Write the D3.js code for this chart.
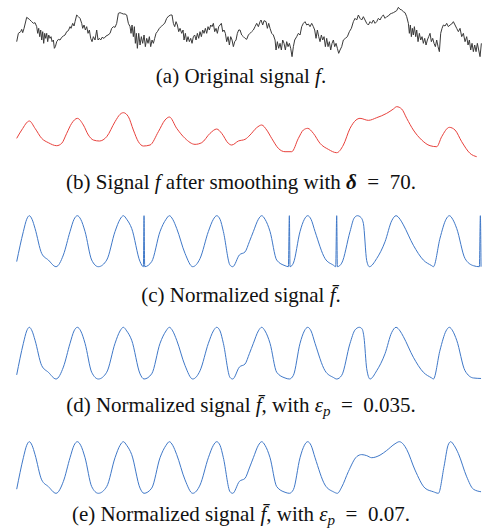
<!DOCTYPE html>
<html>
<head>
<meta charset="utf-8">
<script src="https://cdn.jsdelivr.net/npm/d3@7"></script>
<style>
  body { margin:0; background:#fff; }
  .cap { font-family:"Liberation Serif", "DejaVu Serif", serif; font-size:21px; fill:#111; }
  .sig { fill:none; stroke-linejoin:round; }
</style>
</head>
<body>
<div id="canvas"></div>
<script>
// (a) original signal f : [t, value]
var signalA = [[0,55],[5,80],[12,85],[15,92],[18,82],[22,95],[30,128],[38,122],[45,115],[50,110],[55,112],[60,100],[63,80],[66,95],[69,70],[72,90],[75,60],[78,85],[81,50],[84,80],[87,65],[90,80],[93,55],[96,75],[100,65],[103,70],[106,55],[110,60],[113,35],[116,40],[120,55],[125,62],[130,60],[135,68],[140,72],[145,75],[150,85],[155,88],[160,100],[163,95],[168,110],[172,102],[175,115],[180,135],[185,130],[190,125],[195,110],[198,95],[202,105],[206,90],[210,100],[214,80],[218,90],[222,65],[226,55],[230,70],[235,60],[240,90],[244,60],[248,65],[252,60],[256,68],[262,65],[268,72],[274,75],[280,80],[285,95],[290,100],[295,98],[300,110],[305,140],[310,142],[315,140],[320,138],[325,138],[330,135],[335,110],[340,100],[343,80],[346,105],[350,70],[353,100],[356,50],[359,80],[362,35],[366,80],[370,45],[374,70],[378,50],[382,75],[386,40],[390,65],[394,50],[398,70],[402,40],[406,60],[410,50],[414,65],[418,80],[422,85],[428,95],[433,100],[438,105],[444,110],[450,125],[456,132],[462,135],[466,135],[470,110],[474,100],[478,115],[482,105],[486,85],[490,95],[495,80],[499,90],[502,60],[506,80],[510,55],[514,70],[518,55],[522,65],[526,50],[530,70],[534,75],[538,60],[542,80],[546,65],[550,85],[554,70],[558,90],[562,80],[566,95],[570,80],[574,100],[578,90],[582,105],[586,100],[590,110],[594,85],[598,95],[602,80],[606,100],[610,105],[614,110],[618,85],[622,90],[626,80],[630,55],[634,70],[638,45],[642,70],[646,60],[650,40],[654,55],[658,60],[662,80],[666,90],[670,90],[675,75],[680,70],[685,65],[690,62],[695,75],[700,80],[705,85],[710,90],[715,100],[720,110],[725,100],[730,115],[733,120],[738,105],[742,118],[748,115],[752,95],[756,110],[760,95],[765,80],[770,75],[775,60],[778,30],[782,55],[786,35],[790,50],[794,30],[798,60],[802,50],[806,30],[810,55],[814,40],[818,50],[822,35],[826,10],[830,40],[834,60],[840,70],[845,80],[850,75],[855,100],[860,110],[865,115],[870,105],[875,108],[880,100],[885,110],[890,100],[894,90],[898,65],[902,90],[906,70],[910,55],[914,75],[918,60],[922,70],[926,40],[930,65],[934,40],[938,55],[942,30],[946,50],[950,60],[954,40],[958,50],[962,35],[966,20],[970,30],[975,40],[980,60],[986,65],[992,70],[998,85],[1004,95],[1010,115],[1015,125],[1020,120],[1025,135],[1030,125],[1035,120],[1040,130],[1045,120],[1050,110],[1055,105],[1060,115],[1065,110],[1070,120],[1075,110],[1080,115],[1085,125],[1090,120],[1095,130],[1100,135],[1105,125],[1110,130],[1115,132],[1120,138],[1125,140],[1130,142],[1135,145],[1140,148],[1145,158],[1150,152],[1155,150],[1160,145],[1165,142],[1170,130],[1175,110],[1178,80],[1181,105],[1184,70],[1187,95],[1190,75],[1193,100],[1197,70],[1200,90],[1204,55],[1208,80],[1212,60],[1216,70],[1220,50],[1224,65],[1228,45],[1232,60],[1236,70],[1240,80],[1244,55],[1248,65],[1252,50],[1256,40],[1260,60],[1264,40],[1268,25],[1272,80],[1276,95],[1280,105],[1285,102],[1290,110],[1295,100],[1300,105],[1305,108],[1310,115],[1315,105],[1320,95],[1325,85],[1330,95],[1335,70],[1340,80],[1345,55],[1350,70],[1354,45],[1358,60],[1362,30],[1366,50],[1370,25],[1374,45],[1378,25],[1382,50],[1386,30],[1390,10],[1394,50]];

// (b) smoothed signal, delta = 70
var signalB = [[0,70],[15,95],[38,122],[55,100],[75,70],[95,57],[120,48],[135,55],[150,85],[165,115],[182,130],[200,110],[215,80],[230,65],[248,62],[270,75],[295,120],[310,142],[320,147],[335,135],[350,95],[365,60],[380,47],[400,50],[425,90],[445,125],[458,134],[480,100],[505,70],[535,52],[555,57],[580,85],[600,98],[615,85],[635,55],[645,50],[665,62],[685,67],[700,80],[720,102],[735,110],[750,95],[765,70],[785,40],[805,30],[825,30],[845,70],[860,95],[873,100],[890,85],[910,55],[935,37],[960,27],[980,50],[1000,100],[1018,125],[1030,130],[1055,124],[1080,132],[1110,145],[1130,158],[1140,165],[1155,158],[1170,130],[1190,95],[1215,65],[1240,48],[1260,45],[1275,75],[1298,103],[1315,95],[1335,60],[1360,25],[1380,15]];

// (c) normalized signal
var signalC = [[0,0.10],[20,0.69],[30,0.93],[38,1],[46,0.93],[55,0.75],[75,0.26],[95,0.13],[118,0],[140,0.23],[160,0.69],[172,0.93],[182,1],[192,0.93],[205,0.69],[225,0.13],[245,0],[270,0.13],[295,0.69],[310,0.93],[320,1],[330,0.93],[345,0.75],[370,0.10],[380,0],[382,1],[384,0],[405,0.10],[430,0.69],[448,0.93],[458,1],[468,0.93],[480,0.75],[505,0.26],[528,0],[550,0.16],[575,0.69],[590,0.93],[600,1],[610,0.93],[620,0.69],[640,0.03],[648,0],[668,0.23],[685,0.29],[698,0.49],[710,0.69],[725,0.93],[735,1],[745,0.93],[760,0.69],[780,0.13],[805,0.02],[815,0],[818,1],[820,0],[830,0.07],[850,0.69],[863,0.93],[873,1],[883,0.93],[895,0.69],[925,0.16],[950,0.03],[957,0],[960,1],[962,0],[975,0.07],[1000,0.69],[1012,0.95],[1022,1],[1032,0.97],[1040,0.85],[1050,0.12],[1058,0],[1080,0.16],[1105,0.49],[1125,0.9],[1138,1],[1150,0.93],[1160,0.82],[1190,0.42],[1220,0.13],[1245,0.02],[1250,0],[1270,0.56],[1288,0.93],[1298,1],[1308,0.93],[1320,0.75],[1345,0.16],[1370,0.02],[1388,0],[1391,1],[1393,0]];

// (d) normalized, eps_p = 0.035
var signalD = [[0,0.08],[20,0.69],[30,0.93],[38,1],[46,0.93],[55,0.75],[75,0.26],[95,0.13],[118,0],[140,0.23],[160,0.69],[172,0.93],[182,1],[192,0.93],[205,0.69],[225,0.13],[245,0],[270,0.13],[295,0.69],[310,0.93],[320,1],[330,0.93],[345,0.75],[370,0.10],[382,0],[405,0.10],[430,0.69],[448,0.93],[458,1],[468,0.93],[480,0.75],[505,0.26],[528,0],[550,0.16],[575,0.69],[590,0.93],[600,1],[610,0.93],[620,0.69],[640,0.03],[648,0],[668,0.23],[685,0.29],[698,0.49],[710,0.69],[725,0.93],[735,1],[745,0.93],[760,0.69],[780,0.13],[805,0.02],[818,0],[830,0.07],[850,0.69],[863,0.93],[873,1],[883,0.93],[895,0.69],[925,0.16],[950,0.03],[960,0],[975,0.07],[1000,0.69],[1015,0.95],[1028,1],[1036,0.97],[1042,0.8],[1050,0.2],[1060,0],[1080,0.16],[1105,0.49],[1125,0.9],[1138,1],[1150,0.93],[1160,0.82],[1190,0.42],[1220,0.13],[1245,0.02],[1250,0],[1270,0.56],[1288,0.93],[1298,1],[1308,0.93],[1320,0.75],[1345,0.16],[1370,0.02],[1393,0.01]];

// (e) normalized, eps_p = 0.07
var signalE = [[0,0.08],[20,0.69],[30,0.93],[38,1],[46,0.93],[55,0.75],[75,0.26],[95,0.13],[118,0],[140,0.23],[160,0.69],[172,0.93],[182,1],[192,0.93],[205,0.69],[225,0.13],[245,0],[270,0.13],[295,0.69],[310,0.93],[320,1],[330,0.93],[345,0.75],[370,0.10],[382,0],[405,0.10],[430,0.69],[448,0.93],[458,1],[468,0.93],[480,0.75],[505,0.26],[528,0],[550,0.16],[575,0.69],[590,0.93],[600,1],[610,0.93],[620,0.69],[640,0.03],[648,0],[668,0.23],[685,0.29],[698,0.49],[710,0.69],[725,0.93],[735,1],[745,0.93],[760,0.69],[780,0.13],[805,0.02],[818,0],[830,0.07],[850,0.69],[863,0.93],[873,1],[883,0.93],[895,0.69],[925,0.16],[950,0.03],[962,0],[975,0.12],[995,0.42],[1020,0.71],[1035,0.75],[1050,0.73],[1065,0.69],[1090,0.74],[1110,0.83],[1135,0.96],[1148,1],[1160,0.95],[1170,0.85],[1195,0.45],[1225,0.10],[1250,0.03],[1265,0],[1282,0.52],[1294,0.93],[1302,1],[1312,0.93],[1325,0.77],[1350,0.32],[1370,0.08],[1393,0.03]];

// caption pieces: [text, style]  (i = italic, b = bold, s = subscript)
var captionA = [['(a) Original signal ',''],['f','i'],['.','']];
var captionB = [['(b) Signal ',''],['f','i'],[' after smoothing with ',''],['\u03b4','ib'],['\u2002=\u200270.','']];
var captionC = [['(c) Normalized signal ',''],['f\u0304','i'],['.','']];
var captionD = [['(d) Normalized signal ',''],['f\u0304','i'],[', with ',''],['\u03b5','i'],['p','is'],['\u2002=\u20020.035.','']];
var captionE = [['(e) Normalized signal ',''],['f\u0304','i'],[', with ',''],['\u03b5','i'],['p','is'],['\u2002=\u20020.07.','']];

var W = 482, H = 529;
var svg = d3.select('#canvas').append('svg')
    .attr('width', W).attr('height', H);

var x = d3.scaleLinear().domain([0,1395]).range([16.7,481.7]);

var panels = [
  {data:signalA, dom:[0,180], rng:[60,0], color:'#3a3a3a', curve:d3.curveLinear, cap:captionA, capY:83},
  {data:signalB, dom:[0,200], rng:[161.7,95], color:'#e8413c', curve:d3.curveMonotoneX, cap:captionB, capY:189},
  {data:signalC, dom:[0,1], rng:[266.7,215.7], color:'#3f78c8', curve:d3.curveMonotoneX, cap:captionC, capY:302},
  {data:signalD, dom:[0,1], rng:[379,327.3], color:'#3f78c8', curve:d3.curveMonotoneX, cap:captionD, capY:412},
  {data:signalE, dom:[0,1], rng:[493.3,441.7], color:'#3f78c8', curve:d3.curveMonotoneX, cap:captionE, capY:521}
];

panels.forEach(function(p){
  var y = d3.scaleLinear().domain(p.dom).range(p.rng);
  var line = d3.line()
      .x(function(d){return x(d[0]);})
      .y(function(d){return y(d[1]);})
      .curve(p.curve);
  svg.append('path')
      .datum(p.data)
      .attr('class','sig')
      .attr('d', line)
      .attr('stroke', p.color)
      .attr('stroke-width', 1);

  var t = svg.append('text')
      .attr('class','cap')
      .attr('x', W/2)
      .attr('y', p.capY)
      .attr('text-anchor','middle');
  p.cap.forEach(function(c){
    var ts = t.append('tspan').text(c[0]);
    if(c[1].indexOf('i')>=0) ts.style('font-style','italic');
    if(c[1].indexOf('b')>=0) ts.style('font-weight','bold');
    if(c[1].indexOf('s')>=0) ts.attr('baseline-shift','-25%').style('font-size','15px');
  });
});
</script>
</body>
</html>
